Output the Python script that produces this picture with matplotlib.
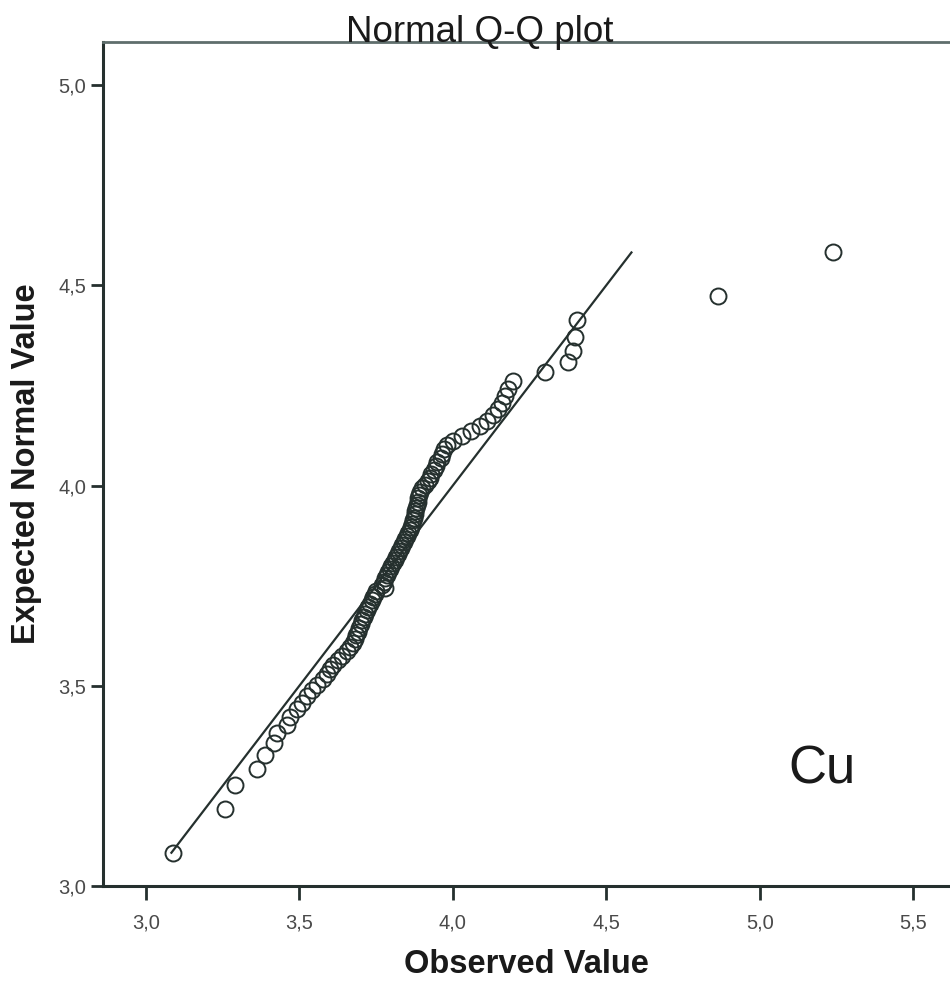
import matplotlib
matplotlib.use("Agg")
import matplotlib.pyplot as plt
from matplotlib.ticker import FixedLocator, FuncFormatter

plt.rcParams['font.family'] = ['Liberation Sans', 'DejaVu Sans']

# Observed Cu values (sorted) and their expected normal values
observed = [
    3.088, 3.257, 3.290, 3.363, 3.388, 3.417, 3.426, 3.459, 3.469, 3.491,
    3.507, 3.524, 3.540, 3.556, 3.577, 3.590, 3.600, 3.610, 3.625, 3.640,
    3.655, 3.665, 3.675, 3.680, 3.685, 3.690, 3.695, 3.700, 3.705, 3.710,
    3.715, 3.720, 3.725, 3.730, 3.735, 3.740, 3.745, 3.750, 3.780, 3.770,
    3.775, 3.780, 3.785, 3.790, 3.795, 3.800, 3.805, 3.810, 3.815, 3.820,
    3.825, 3.830, 3.835, 3.840, 3.845, 3.850, 3.855, 3.860, 3.865, 3.868,
    3.870, 3.873, 3.876, 3.878, 3.880, 3.882, 3.885, 3.888, 3.890, 3.893,
    3.900, 3.910, 3.920, 3.925, 3.930, 3.940, 3.945, 3.950, 3.960, 3.965,
    3.970, 3.980, 4.000, 4.030, 4.060, 4.090, 4.110, 4.130, 4.147, 4.160,
    4.170, 4.180, 4.196, 4.300, 4.375, 4.392, 4.398, 4.405, 4.864, 5.240,
]
expected = [
    3.083, 3.191, 3.251, 3.293, 3.328, 3.356, 3.381, 3.403, 3.423, 3.441,
    3.458, 3.474, 3.489, 3.503, 3.516, 3.529, 3.541, 3.553, 3.564, 3.575,
    3.586, 3.597, 3.607, 3.617, 3.626, 3.635, 3.645, 3.654, 3.663, 3.671,
    3.680, 3.688, 3.697, 3.705, 3.713, 3.721, 3.729, 3.737, 3.745, 3.752,
    3.760, 3.768, 3.776, 3.783, 3.791, 3.799, 3.806, 3.814, 3.821, 3.829,
    3.836, 3.844, 3.851, 3.859, 3.866, 3.874, 3.882, 3.889, 3.897, 3.905,
    3.913, 3.920, 3.928, 3.936, 3.944, 3.952, 3.960, 3.968, 3.977, 3.985,
    3.994, 4.002, 4.011, 4.020, 4.030, 4.039, 4.048, 4.058, 4.068, 4.079,
    4.090, 4.101, 4.112, 4.124, 4.136, 4.149, 4.162, 4.176, 4.191, 4.207,
    4.224, 4.242, 4.262, 4.284, 4.309, 4.337, 4.372, 4.414, 4.474, 4.582,
]

# Reference line y = x across the range of expected values
ref_line = [3.083, 4.582]

x_ticks = [3.0, 3.5, 4.0, 4.5, 5.0, 5.5]
y_ticks = [3.0, 3.5, 4.0, 4.5, 5.0]

ink = '#25302e'

fig = plt.figure(figsize=(9.5, 9.82), dpi=100)
ax = fig.add_axes([0.1084, 0.0978, 0.8916, 0.8594])

ax.plot(ref_line, ref_line, color=ink, lw=1.6, zorder=2)
ax.plot(observed, expected, linestyle='none', marker='o', markersize=11.5,
        markerfacecolor='none', markeredgecolor=ink, markeredgewidth=1.4,
        zorder=3)

ax.text(5.203, 3.29, 'Cu', fontsize=38, color='#1a1a1a',
        ha='center', va='center')

ax.set_xlim(2.86, 5.62)
ax.set_ylim(3.0, 5.1075)

comma = FuncFormatter(lambda v, p: f'{v:.1f}'.replace('.', ','))
ax.xaxis.set_major_locator(FixedLocator(x_ticks))
ax.yaxis.set_major_locator(FixedLocator(y_ticks))
ax.xaxis.set_major_formatter(comma)
ax.yaxis.set_major_formatter(comma)

ax.tick_params(axis='x', direction='out', length=10, width=2, color=ink,
               labelsize=14.5, labelcolor='#4a4a4a', pad=10)
ax.tick_params(axis='y', direction='out', length=9, width=2, color=ink,
               labelsize=14.5, labelcolor='#4a4a4a', pad=3)

for side in ('left', 'bottom'):
    ax.spines[side].set_color(ink)
    ax.spines[side].set_linewidth(2.2)
ax.spines['top'].set_color('#5f6e6c')
ax.spines['top'].set_linewidth(2.0)
ax.spines['right'].set_visible(False)

ax.set_xlabel('Observed Value', fontsize=23.5, fontweight='bold',
              color='#1a1a1a', labelpad=12)
ax.set_ylabel('Expected Normal Value', fontsize=23.5, fontweight='bold',
              color='#1a1a1a', labelpad=12)
fig.text(0.505, 0.967, 'Normal Q-Q plot', fontsize=26.5, color='#1a1a1a',
         ha='center', va='center')

fig.savefig('out.png', dpi=100)
